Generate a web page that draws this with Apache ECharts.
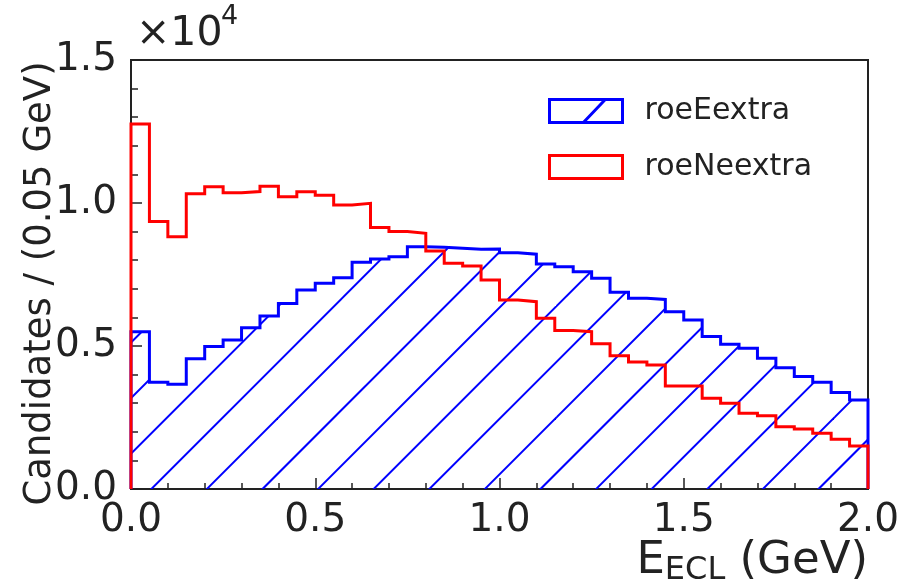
<!DOCTYPE html>
<html>
<head>
<meta charset="utf-8">
<script src="https://cdn.jsdelivr.net/npm/echarts@6/dist/echarts.min.js"></script>
<style>
html,body{margin:0;padding:0;background:#fff;}
#chart{width:906px;height:585px;}
</style>
</head>
<body>
<div id="chart"></div>
<script>
// Bin edges (GeV), 0.05 GeV bins
const binEdges = [0.00,0.05,0.10,0.15,0.20,0.25,0.30,0.35,0.40,0.45,0.50,0.55,0.60,0.65,0.70,0.75,0.80,0.85,0.90,0.95,
                  1.00,1.05,1.10,1.15,1.20,1.25,1.30,1.35,1.40,1.45,1.50,1.55,1.60,1.65,1.70,1.75,1.80,1.85,1.90,1.95,2.00];
// Candidates per bin
const roeEextra = [5500,3730,3660,4550,4980,5210,5640,6050,6490,6960,7190,7390,7930,8040,8120,8470,8450,8420,8380,8390,
                   8260,8210,7870,7770,7600,7370,6880,6670,6630,6200,5910,5330,5060,4920,4570,4240,3930,3730,3370,3110];
const roeNeextra = [12760,9350,8820,10320,10570,10360,10400,10590,10220,10390,10270,9930,9990,9140,9000,8940,8320,7890,7800,7310,
                    6610,6550,5970,5540,5500,5080,4660,4440,4340,3600,3600,3170,3000,2650,2560,2180,2100,1950,1740,1500];
const seriesNames = ['roeEextra','roeNeextra'];
const xTicks = [0.0,0.5,1.0,1.5,2.0];
const yTicks = [0,5000,10000,15000];

const FONT = 'DejaVu Sans';
const BLUE = '#0000ff', RED = '#ff0000', INK = '#222222';

// hatch pattern (45 deg lines)
function makeHatch(){
  const T = 278, S = 55.6, C0 = 28.7;
  const cv = document.createElement('canvas');
  cv.width = T; cv.height = T;
  const ctx = cv.getContext('2d');
  ctx.strokeStyle = BLUE; ctx.lineWidth = 2;
  for (let k = -2; k <= 12; k++) {
    const c = C0 + S*k;
    ctx.beginPath();
    ctx.moveTo(c + 20, -20);
    ctx.lineTo(-20, c + 20);
    ctx.stroke();
  }
  return cv;
}
const hatch = makeHatch();

function stepData(vals){
  const d = [[binEdges[0], 0]];
  for (let i = 0; i < vals.length; i++) d.push([binEdges[i], vals[i]]);
  d.push([binEdges[binEdges.length-1], vals[vals.length-1]]);
  d.push([binEdges[binEdges.length-1], 0]);
  return d;
}

const chart = echarts.init(document.getElementById('chart'), null, {renderer:'canvas'});
chart.setOption({
  animation: false,
  backgroundColor: '#fff',
  textStyle: {fontFamily: FONT},
  grid: {left: 131, right: 38, top: 60, bottom: 96, show: true, borderColor: INK, borderWidth: 2,
         backgroundColor: 'transparent', containLabel: false, outerBoundsMode: 'none'},
  xAxis: {
    type: 'value', min: 0, max: 2.0, interval: 0.5,
    axisLine: {show: true, lineStyle: {color: INK, width: 2}},
    axisTick: {show: true, inside: true, length: 11, lineStyle: {color: INK, width: 1.5}},
    minorTick: {show: true, splitNumber: 5, length: 6, lineStyle: {color: INK, width: 1.5}},
    splitLine: {show: false},
    axisLabel: {fontSize: 39, color: INK, fontFamily: FONT, margin: 12,
      formatter: v => xTicks.indexOf(v) >= 0 ? v.toFixed(1) : ''},
    name: '{a|E}{s|ECL}{a| (GeV)}',
    nameLocation: 'end', nameGap: 0, nameMoveOverlap: false,
    nameTextStyle: {align: 'right', verticalAlign: 'top', padding: [46, 0, 0, 0],
      rich: {
        a: {fontSize: 45, fontFamily: FONT, color: INK},
        s: {fontSize: 32, fontFamily: FONT, color: INK, verticalAlign: 'bottom', padding: [20, 0, 0, 0]}
      }}
  },
  yAxis: {
    type: 'value', min: 0, max: 15000, interval: 5000,
    axisLine: {show: true, lineStyle: {color: INK, width: 2}},
    axisTick: {show: true, inside: true, length: 11, lineStyle: {color: INK, width: 1.5}},
    minorTick: {show: true, splitNumber: 5, length: 7, lineStyle: {color: INK, width: 1.5}},
    splitLine: {show: false},
    axisLabel: {fontSize: 39, color: INK, fontFamily: FONT, margin: 14,
      formatter: v => yTicks.indexOf(v) >= 0 ? (v/10000).toFixed(1) : ''},
    name: 'Candidates / (0.05 GeV)',
    nameLocation: 'middle', nameGap: 72, nameRotate: 90, nameMoveOverlap: false,
    nameTextStyle: {fontSize: 37, color: INK, fontFamily: FONT, padding: [0, 18, 0, 0]}
  },
  legend: {
    left: 543, top: 91, orient: 'vertical',
    itemWidth: 73, itemHeight: 25, itemGap: 26,
    textStyle: {fontSize: 30, color: INK, fontFamily: FONT, padding: [0, 0, 0, 17]},
    selectedMode: false,
    data: [
      {name: seriesNames[0], icon: 'path://M1.5,1.5H71.5V23.5H1.5Z M34,23.5L55,1.5',
       itemStyle: {color: 'rgba(0,0,0,0)', borderColor: BLUE, borderWidth: 3}},
      {name: seriesNames[1], icon: 'path://M1.5,1.5H71.5V23.5H1.5Z',
       itemStyle: {color: 'rgba(0,0,0,0)', borderColor: RED, borderWidth: 3}}
    ]
  },
  graphic: [
    {type: 'text', left: 136, top: 14, style: {text: '×10', fontSize: 41, fontFamily: FONT, fill: INK}},
    {type: 'text', left: 221, top: 3, style: {text: '4', fontSize: 27, fontFamily: FONT, fill: INK}}
  ],
  series: [
    {
      name: seriesNames[0], type: 'line', step: 'end', symbol: 'none',
      data: stepData(roeEextra),
      lineStyle: {color: BLUE, width: 3, join: 'miter'},
      itemStyle: {color: BLUE},
      areaStyle: {color: {image: hatch, repeat: 'repeat'}, opacity: 1},
      z: 2
    },
    {
      name: seriesNames[1], type: 'line', step: 'end', symbol: 'none',
      data: stepData(roeNeextra),
      lineStyle: {color: RED, width: 3, join: 'miter'},
      itemStyle: {color: RED},
      z: 3
    }
  ]
});
</script>
</body>
</html>
